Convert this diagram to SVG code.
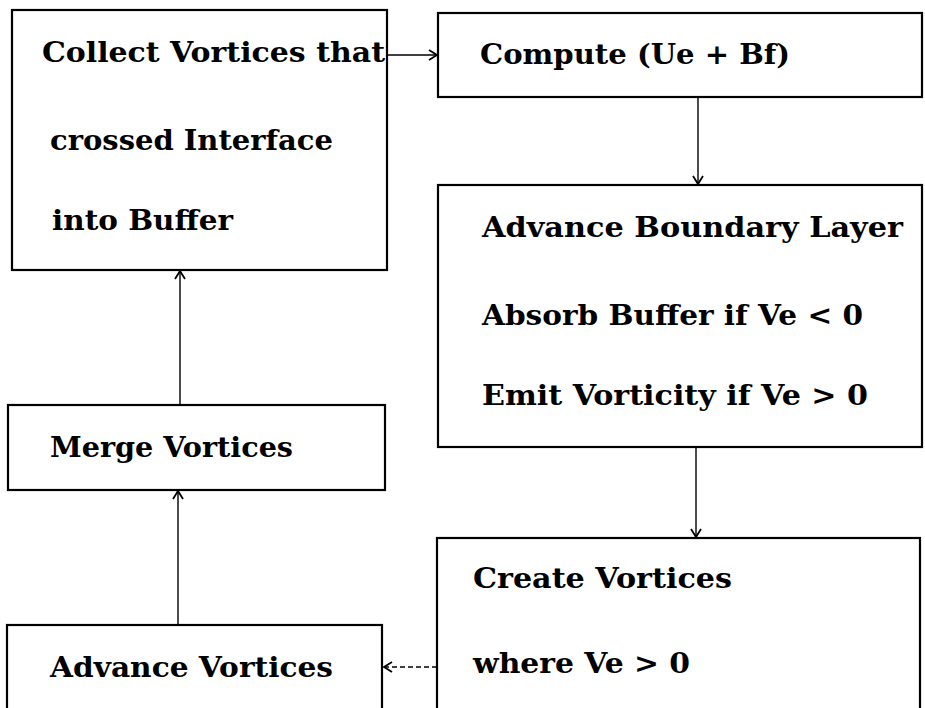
<svg xmlns="http://www.w3.org/2000/svg" width="925" height="708" viewBox="0 0 925 708">
  <style>
    .box { fill: #fff; stroke: #000; stroke-width: 2.2; }
    .lbl { font-family: "DejaVu Serif", "Liberation Serif", serif; font-weight: bold; font-size: 27px; fill: #000; }
    .edge { stroke: #000; stroke-width: 1.4; fill: none; }
    .dash { stroke-dasharray: 5 3; }
  </style>
  <defs>
    <marker id="arr" markerWidth="12" markerHeight="12" refX="10" refY="6" orient="auto" markerUnits="userSpaceOnUse">
      <path d="M2,1 L10,6 L2,11" fill="none" stroke="#000" stroke-width="1.8"/>
    </marker>
  </defs>
  <rect width="925" height="708" fill="#fff"/>

  <g id="collect">
    <rect class="box" x="12" y="10" width="375" height="260"/>
    <text class="lbl" x="42" y="62" textLength="343" lengthAdjust="spacingAndGlyphs">Collect Vortices that</text>
    <text class="lbl" x="50" y="150" textLength="283" lengthAdjust="spacingAndGlyphs">crossed Interface</text>
    <text class="lbl" x="52" y="230" textLength="181" lengthAdjust="spacingAndGlyphs">into Buffer</text>
  </g>

  <g id="compute">
    <rect class="box" x="438" y="13" width="484" height="84"/>
    <text class="lbl" x="480" y="64" textLength="310" lengthAdjust="spacingAndGlyphs">Compute (Ue + Bf)</text>
  </g>

  <g id="boundary">
    <rect class="box" x="438" y="185" width="484" height="262"/>
    <text class="lbl" x="482" y="237" textLength="421" lengthAdjust="spacingAndGlyphs">Advance Boundary Layer</text>
    <text class="lbl" x="482" y="325" textLength="381" lengthAdjust="spacingAndGlyphs">Absorb Buffer if Ve &lt; 0</text>
    <text class="lbl" x="482" y="405" textLength="386" lengthAdjust="spacingAndGlyphs">Emit Vorticity if Ve &gt; 0</text>
  </g>

  <g id="create">
    <rect class="box" x="437" y="538" width="483" height="190"/>
    <text class="lbl" x="473" y="588" textLength="259" lengthAdjust="spacingAndGlyphs">Create Vortices</text>
    <text class="lbl" x="473" y="673" textLength="217" lengthAdjust="spacingAndGlyphs">where Ve &gt; 0</text>
  </g>

  <g id="merge">
    <rect class="box" x="8" y="405" width="377" height="85"/>
    <text class="lbl" x="50" y="457" textLength="243" lengthAdjust="spacingAndGlyphs">Merge Vortices</text>
  </g>

  <g id="advance">
    <rect class="box" x="7" y="625" width="375" height="100"/>
    <text class="lbl" x="50" y="677" textLength="283" lengthAdjust="spacingAndGlyphs">Advance Vortices</text>
  </g>

  <g id="connectors">
    <line class="edge" x1="387" y1="55" x2="437" y2="55" marker-end="url(#arr)"/>
    <line class="edge" x1="698" y1="97" x2="698" y2="184" marker-end="url(#arr)"/>
    <line class="edge" x1="696" y1="447" x2="696" y2="537" marker-end="url(#arr)"/>
    <line class="edge dash" x1="437" y1="667" x2="384" y2="667" marker-end="url(#arr)"/>
    <line class="edge" x1="178" y1="625" x2="178" y2="491" marker-end="url(#arr)"/>
    <line class="edge" x1="180" y1="405" x2="180" y2="271" marker-end="url(#arr)"/>
  </g>
</svg>
